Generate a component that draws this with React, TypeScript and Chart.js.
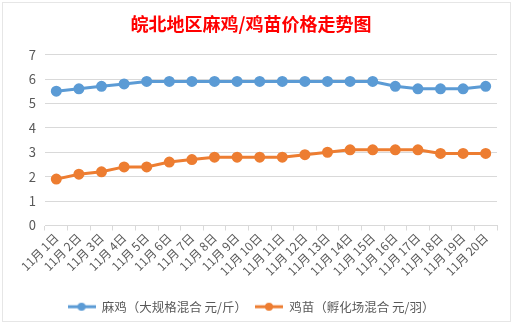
import React, { useEffect, useRef } from "react";
import { Chart, registerables } from "chart.js";

Chart.register(...registerables);

const title = "皖北地区麻鸡/鸡苗价格走势图";
const categories = [
  "11月 1日", "11月 2日", "11月 3日", "11月 4日", "11月 5日", "11月 6日", "11月 7日",
  "11月 8日", "11月 9日", "11月 10日", "11月 11日", "11月 12日", "11月 13日", "11月 14日",
  "11月 15日", "11月 16日", "11月 17日", "11月 18日", "11月 19日", "11月 20日",
];
const chickenLabel = "麻鸡（大规格混合 元/斤）";
const chickenPrices = [5.5, 5.6, 5.7, 5.8, 5.9, 5.9, 5.9, 5.9, 5.9, 5.9, 5.9, 5.9, 5.9, 5.9, 5.9, 5.7, 5.6, 5.6, 5.6, 5.7];
const chickLabel = "鸡苗（孵化场混合 元/羽）";
const chickPrices = [1.9, 2.1, 2.2, 2.4, 2.4, 2.6, 2.7, 2.8, 2.8, 2.8, 2.8, 2.9, 3.0, 3.1, 3.1, 3.1, 3.1, 2.95, 2.95, 2.95];
const yTicks = [0, 1, 2, 3, 4, 5, 6, 7];

const BLUE = "#5B9BD5";
const ORANGE = "#ED7D31";
const TEXT = "#595959";
const GRID = "#D9D9D9";
const FONT = "'Noto Sans CJK SC', 'Noto Sans', sans-serif";

function legendIcon(color: string) {
  const c = document.createElement("canvas");
  c.width = 28;
  c.height = 10;
  const ctx = c.getContext("2d")!;
  ctx.strokeStyle = color;
  ctx.lineWidth = 3;
  ctx.beginPath();
  ctx.moveTo(0, 5);
  ctx.lineTo(28, 5);
  ctx.stroke();
  ctx.fillStyle = color;
  ctx.beginPath();
  ctx.arc(14, 5, 4, 0, Math.PI * 2);
  ctx.fill();
  return c;
}

const bgPlugin = {
  id: "bg",
  beforeDraw(chart: any) {
    const ctx = chart.ctx;
    ctx.save();
    ctx.fillStyle = "#ffffff";
    ctx.fillRect(0, 0, chart.width, chart.height);
    ctx.strokeStyle = "#E6E6E6";
    ctx.lineWidth = 1;
    ctx.strokeRect(2.5, 2.5, chart.width - 6, chart.height - 8);
    ctx.restore();
  },
};

export default function App() {
  const ref = useRef<HTMLCanvasElement>(null);
  useEffect(() => {
    document.body.style.margin = "0";
    const icons = [legendIcon(BLUE), legendIcon(ORANGE)];
    const chart = new Chart(ref.current!, {
      type: "line",
      data: {
        labels: categories,
        datasets: [
          {
            label: chickenLabel,
            data: chickenPrices,
            borderColor: BLUE,
            backgroundColor: BLUE,
            borderWidth: 3,
            pointRadius: 4,
            pointHoverRadius: 4,
            tension: 0,
          },
          {
            label: chickLabel,
            data: chickPrices,
            borderColor: ORANGE,
            backgroundColor: ORANGE,
            borderWidth: 3,
            pointRadius: 4,
            pointHoverRadius: 4,
            tension: 0,
          },
        ],
      },
      options: {
        responsive: false,
        animation: false,
        layout: { padding: { left: 5, right: 17, top: 0, bottom: 4 } },
        plugins: {
          title: {
            display: true,
            text: title,
            color: "#FF0000",
            font: { family: FONT, size: 18, weight: "bold" },
            padding: { top: 13, bottom: 20 },
          },
          legend: {
            position: "bottom",
            labels: {
              color: TEXT,
              font: { family: FONT, size: 12.5 },
              usePointStyle: true,
              pointStyleWidth: 28,
              boxWidth: 28,
              boxHeight: 10,
              padding: 8,
              generateLabels: (c: any) =>
                c.data.datasets.map((d: any, i: number) => ({
                  text: d.label,
                  fillStyle: d.borderColor,
                  strokeStyle: d.borderColor,
                  pointStyle: icons[i],
                  fontColor: TEXT,
                  datasetIndex: i,
                  hidden: false,
                  lineWidth: 0,
                })),
            },
          },
          tooltip: { enabled: false },
        },
        scales: {
          x: {
            offset: true,
            afterFit: (s: any) => {
              s.height = 67;
            },
            grid: {
              display: true,
              drawOnChartArea: false,
              offset: true,
              color: GRID,
              tickLength: 5,
            },
            border: { display: true, color: GRID },
            ticks: {
              color: TEXT,
              font: { family: FONT, size: 12 },
              maxRotation: 45,
              minRotation: 45,
              autoSkip: false,
              padding: 0,
            },
          },
          y: {
            min: 0,
            max: 7,
            afterBuildTicks: (s: any) => {
              s.ticks = yTicks.map((v) => ({ value: v }));
            },
            afterFit: (s: any) => {
              s.width = 40;
            },
            grid: { color: GRID, drawTicks: false },
            border: { display: false },
            ticks: {
              color: TEXT,
              font: { family: FONT, size: 13 },
              padding: 9,
            },
          },
        },
      },
      plugins: [bgPlugin],
    });
    return () => chart.destroy();
  }, []);
  return (
    <div style={{ position: "absolute", left: 0, top: 0, width: 514, height: 327 }}>
      <canvas ref={ref} width={514} height={327} style={{ width: 514, height: 327 }} />
    </div>
  );
}
